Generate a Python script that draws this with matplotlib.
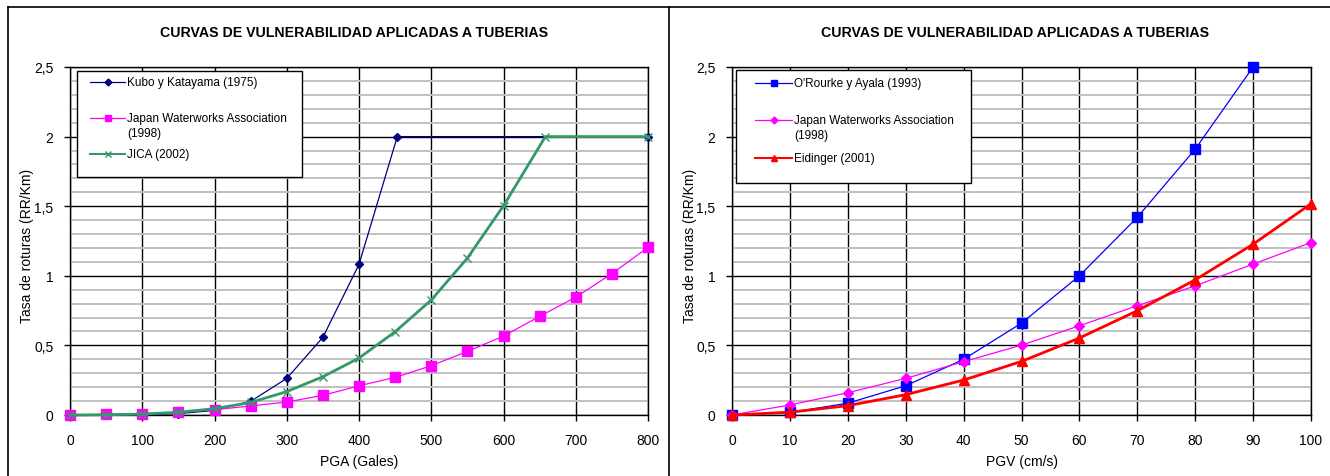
import numpy as np
import matplotlib.pyplot as plt
from matplotlib.lines import Line2D
from matplotlib.patches import Rectangle

plt.rcParams['font.family'] = ['Liberation Sans', 'DejaVu Sans']

# --- datos: curvas PGA (izquierda) ---
pga = [0, 50, 100, 150, 200, 250, 300, 350, 400, 450, 500, 550, 600, 650, 700, 750, 800]
jwa_pga = [0, 0.005, 0.01, 0.02, 0.038, 0.065, 0.093, 0.141, 0.21, 0.27, 0.354,
           0.457, 0.567, 0.708, 0.847, 1.015, 1.204]
kubo_x = [0, 50, 100, 150, 200, 250, 300, 350, 400, 453, 800]
kubo_y = [0, 0, 0, 0.01, 0.033, 0.098, 0.263, 0.558, 1.082, 2.0, 2.0]
jica_x = [0, 50, 100, 150, 200, 250, 300, 350, 400, 450, 500, 550, 600, 658, 800]
jica_y = [0, 0.002, 0.006, 0.02, 0.045, 0.09, 0.168, 0.275, 0.409, 0.598, 0.826,
          1.127, 1.503, 2.0, 2.0]

# --- datos: curvas PGV (derecha) ---
pgv = [0, 10, 20, 30, 40, 50, 60, 70, 80, 90, 100]
orourke_x = [0, 10, 20, 30, 40, 50, 60, 70, 80, 90]
orourke_y = [0, 0.018, 0.085, 0.21, 0.40, 0.66, 1.0, 1.42, 1.91, 2.5]
jwa_pgv = [0, 0.072, 0.16, 0.263, 0.383, 0.502, 0.641, 0.785, 0.928, 1.084, 1.239]
eid_y = [0, 0.02, 0.067, 0.146, 0.251, 0.385, 0.553, 0.749, 0.971, 1.227, 1.517]

titulo = 'CURVAS DE VULNERABILIDAD APLICADAS A TUBERIAS'
ylab = 'Tasa de roturas (RR/Km)'
yticks = [0, 0.5, 1, 1.5, 2, 2.5]
ytick_labels = ['0', '0,5', '1', '1,5', '2', '2,5']

W, H = 1330, 477
fig = plt.figure(figsize=(W / 100, H / 100), dpi=100)

ax1 = fig.add_axes([70 / W, 1 - 416 / H, 578 / W, 348 / H])
ax2 = fig.add_axes([732 / W, 1 - 416 / H, 579 / W, 348 / H])


def style_axes(ax, xmax, xstep, xlabel, title_x):
    ax.set_xlim(0, xmax)
    ax.set_ylim(0, 2.5)
    ax.set_xticks(np.arange(0, xmax + 1, xstep))
    ax.set_yticks(yticks)
    ax.set_yticklabels(ytick_labels)
    ax.set_yticks(np.arange(0, 2.51, 0.1), minor=True)
    ax.grid(which='minor', axis='y', color='#c0c0c0', lw=1.4, zorder=0)
    ax.grid(which='major', axis='both', color='black', lw=1.0, zorder=1)
    ax.tick_params(which='major', direction='out', length=4, width=1, labelsize=10)
    ax.tick_params(axis='x', pad=9)
    ax.tick_params(axis='y', pad=8)
    ax.tick_params(which='minor', length=0)
    for s in ax.spines.values():
        s.set_linewidth(1.0)
    ax.set_axisbelow(True)
    ax.set_ylabel(ylab, fontsize=10)
    ax.set_xlabel(xlabel, fontsize=10)
    ax.xaxis.set_label_coords(0.5, -0.112)
    ax.text(title_x, 1.10, titulo, transform=ax.transAxes, ha='center', va='center',
            fontsize=10.2, fontweight='bold')


def draw_legend(ax, box, hx, tx, rows):
    x0, y0, x1, y1 = box
    ax.add_patch(Rectangle((x0, y0), x1 - x0, y1 - y0, transform=ax.transAxes,
                           facecolor='white', edgecolor='black', lw=1.0, zorder=5))
    for y, lines, color, lw, marker, ms in rows:
        ax.add_line(Line2D([hx[0], hx[1]], [y, y], transform=ax.transAxes, color=color,
                           lw=lw, zorder=6))
        ax.add_line(Line2D([(hx[0] + hx[1]) / 2], [y], transform=ax.transAxes, color=color,
                           marker=marker, ms=ms, zorder=6))
        for i, t in enumerate(lines):
            ax.text(tx, y - i * 0.042, t, transform=ax.transAxes, ha='left', va='center',
                    fontsize=8.5, zorder=7)


# izquierda
style_axes(ax1, 800, 100, 'PGA (Gales)', 0.492)
ax1.yaxis.set_label_coords(-0.062, 0.49)
ax1.plot(kubo_x, kubo_y, color='#000080', lw=0.9, marker='D', ms=4.5, clip_on=False, zorder=3)
ax1.plot(pga, jwa_pga, color='#ff00ff', lw=0.9, marker='s', ms=7, clip_on=False, zorder=3)
ax1.plot(jica_x, jica_y, color='#339966', lw=2.0, marker='x', ms=6, mew=1.0,
         clip_on=False, zorder=4)
draw_legend(ax1, (0.012, 0.684, 0.401, 0.989), (0.035, 0.095), 0.099, [
    (0.957, ['Kubo y Katayama (1975)'], '#000080', 0.9, 'D', 3.5),
    (0.853, ['Japan Waterworks Association', '(1998)'], '#ff00ff', 0.9, 's', 5),
    (0.750, ['JICA (2002)'], '#339966', 1.5, 'x', 4),
])

# derecha
style_axes(ax2, 100, 10, 'PGV (cm/s)', 0.489)
ax2.yaxis.set_label_coords(-0.060, 0.49)
ax2.plot(orourke_x, orourke_y, color='#0000ff', lw=0.9, marker='s', ms=7, clip_on=False, zorder=3)
ax2.plot(pgv, jwa_pgv, color='#ff00ff', lw=0.9, marker='D', ms=5, clip_on=False, zorder=3)
ax2.plot(pgv, eid_y, color='#ff0000', lw=2.0, marker='^', ms=7.5, clip_on=False, zorder=4)
draw_legend(ax2, (0.007, 0.667, 0.413, 0.991), (0.040, 0.104), 0.107, [
    (0.954, ["O'Rourke y Ayala (1993)"], '#0000ff', 0.9, 's', 5),
    (0.848, ['Japan Waterworks Association', '(1998)'], '#ff00ff', 0.9, 'D', 3.5),
    (0.739, ['Eidinger (2001)'], '#ff0000', 1.5, '^', 5),
])

# marco exterior del gráfico
bx, by = 7.5 / W, 1 - 7.5 / H
fig.add_artist(Line2D([bx, 1], [by, by], transform=fig.transFigure, color='black', lw=1.2))
fig.add_artist(Line2D([bx, bx], [0, by], transform=fig.transFigure, color='black', lw=1.2))
fig.add_artist(Line2D([669 / W, 669 / W], [0, by], transform=fig.transFigure, color='black', lw=1.2))

fig.savefig('out.png', dpi=100)
